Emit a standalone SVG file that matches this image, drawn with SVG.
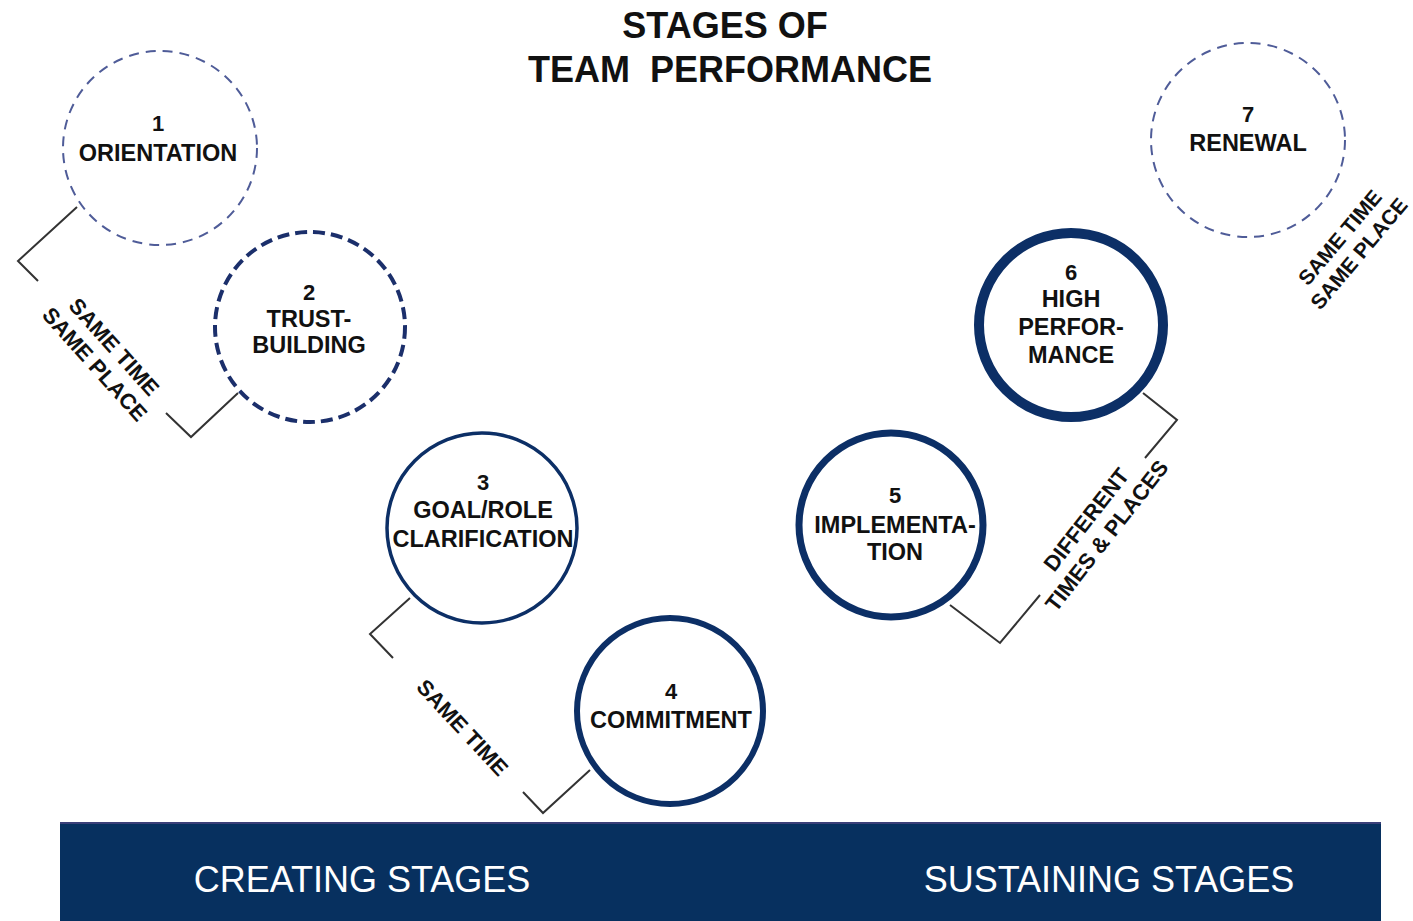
<svg xmlns="http://www.w3.org/2000/svg" width="1413" height="921" viewBox="0 0 1413 921">
<style>
.lbl{font-family:"Liberation Sans",Arial,sans-serif;font-weight:bold;font-size:23.5px;fill:#111;text-anchor:middle}
.num{font-size:22px}
.rot{font-family:"Liberation Sans",Arial,sans-serif;font-weight:bold;font-size:22px;fill:#111;text-anchor:middle}
.title{font-family:"Liberation Sans",Arial,sans-serif;font-weight:bold;font-size:36px;fill:#111;text-anchor:middle}
.band{font-family:"Liberation Sans",Arial,sans-serif;font-size:36px;fill:#fff;text-anchor:middle}
.thin{fill:#fff;stroke:#4f5c98;stroke-width:2;stroke-dasharray:10 7}
.dash{fill:#fff;stroke:#1b2f6b;stroke-width:4;stroke-dasharray:12 6}
.solid{fill:#fff;stroke:#0c2f66}
.conn{fill:none;stroke:#333;stroke-width:2}
</style>
<rect width="1413" height="921" fill="#fff"/>
<g id="title">
<text class="title" x="725" y="38">STAGES OF</text>
<text class="title" x="730" y="82" xml:space="preserve">TEAM  PERFORMANCE</text>
</g>
<g id="connectors">
<polyline class="conn" points="77,207 18,261 38,281"/>
<polyline class="conn" points="238,393 191,437 166,413"/>
<polyline class="conn" points="410,598 370,634 393,658"/>
<polyline class="conn" points="590,770 543,813 523,792"/>
<polyline class="conn" points="950,605 1000,643 1040,595"/>
<polyline class="conn" points="1143,393 1177,420 1145,458"/>
</g>
<g id="node1">
<circle class="thin" cx="160" cy="148" r="97"/>
<text class="lbl num" x="158" y="131">1</text>
<text class="lbl" x="158" y="161">ORIENTATION</text>
</g>
<g id="node2">
<circle class="dash" cx="310" cy="327" r="95"/>
<text class="lbl num" x="309" y="300">2</text>
<text class="lbl" x="309" y="327">TRUST-</text>
<text class="lbl" x="309" y="353">BUILDING</text>
</g>
<g id="node3">
<circle class="solid" cx="482" cy="528" r="95" stroke-width="3.5"/>
<text class="lbl num" x="483" y="490">3</text>
<text class="lbl" x="483" y="518">GOAL/ROLE</text>
<text class="lbl" x="483" y="547">CLARIFICATION</text>
</g>
<g id="node4">
<circle class="solid" cx="670" cy="711" r="93" stroke-width="6"/>
<text class="lbl num" x="671" y="699">4</text>
<text class="lbl" x="671" y="728">COMMITMENT</text>
</g>
<g id="node5">
<circle class="solid" cx="891" cy="525" r="92" stroke-width="7"/>
<text class="lbl num" x="895" y="503">5</text>
<text class="lbl" x="895" y="533">IMPLEMENTA-</text>
<text class="lbl" x="895" y="560">TION</text>
</g>
<g id="node6">
<circle class="solid" cx="1071" cy="325" r="92" stroke-width="10"/>
<text class="lbl num" x="1071" y="280">6</text>
<text class="lbl" x="1071" y="307">HIGH</text>
<text class="lbl" x="1071" y="335">PERFOR-</text>
<text class="lbl" x="1071" y="363">MANCE</text>
</g>
<g id="node7">
<circle class="thin" cx="1248" cy="140" r="97"/>
<text class="lbl num" x="1248" y="122">7</text>
<text class="lbl" x="1248" y="151">RENEWAL</text>
</g>
<g id="labels">
<g transform="translate(104,356) rotate(48)">
<text class="rot" x="0" y="-6">SAME TIME</text>
<text class="rot" x="0" y="20">SAME PLACE</text>
</g>
<g transform="translate(462,728) rotate(47)">
<text class="rot" x="0" y="7">SAME TIME</text>
</g>
<g transform="translate(1097,528) rotate(-52)">
<text class="rot" x="0" y="-6">DIFFERENT</text>
<text class="rot" x="0" y="20">TIMES &amp; PLACES</text>
</g>
<g transform="translate(1350,246) rotate(-50)">
<text class="rot" x="0" y="-6" style="font-size:21px">SAME TIME</text>
<text class="rot" x="0" y="19" style="font-size:21px">SAME PLACE</text>
</g>
</g>
<g id="band">
<rect x="60" y="822" width="1321" height="99" fill="#07305f"/>
<line x1="60" y1="823" x2="1381" y2="823" stroke="#3a3f78" stroke-width="2"/>
<text class="band" x="362" y="892">CREATING STAGES</text>
<text class="band" x="1109" y="892">SUSTAINING STAGES</text>
</g>
</svg>
